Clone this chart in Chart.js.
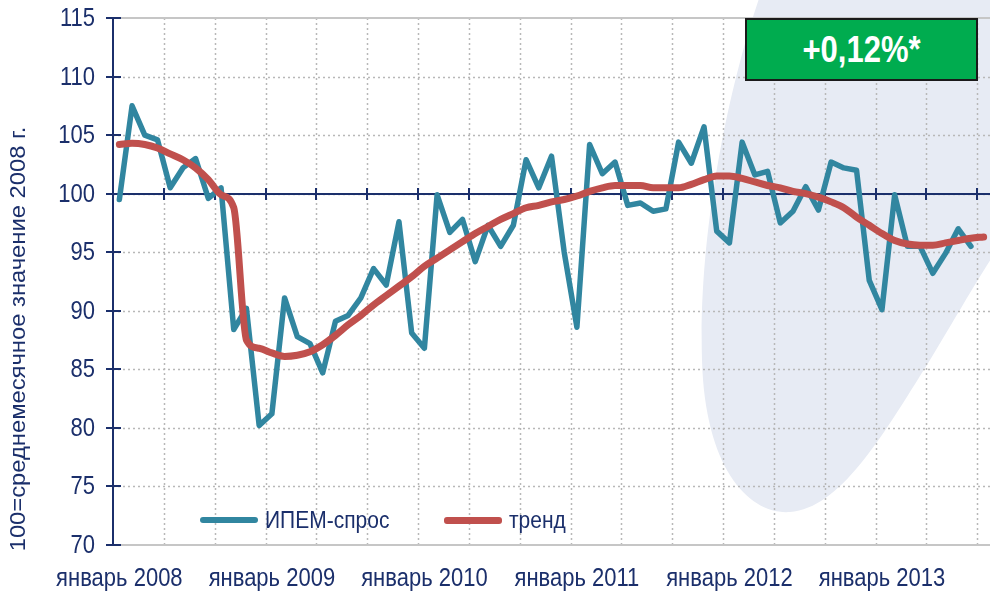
<!DOCTYPE html>
<html>
<head>
<meta charset="utf-8">
<script src="https://cdn.jsdelivr.net/npm/chart.js@4.4.1/dist/chart.umd.min.js"></script>
<style>
  body { margin: 0; background: #fff; }
  #wrap { position: relative; width: 990px; height: 599px; overflow: hidden; }
  #chart { position: absolute; left: 0; top: 0; }
  .legend { position: absolute; top: 508px; font-family: 'Liberation Sans', Arial, sans-serif; font-size: 21px; color: #1b2f6b; display: flex; align-items: center; }
  .legend i { display: inline-block; width: 58px; height: 6px; margin-right: 7px; border-radius: 3px; }
  .legend span { display: inline-block; transform: scaleY(1.18); }
  .badge { position: absolute; left: 745px; top: 18px; width: 229px; height: 59px; background: #00ac4f; border: 2px solid #1a1a1a; color: #fff; font-family: 'Liberation Sans', Arial, sans-serif; font-weight: bold; font-size: 31px; display: flex; align-items: center; justify-content: center; }
  .badge span { display: inline-block; transform: scaleY(1.2); }
</style>
</head>
<body>
<div id="wrap">
  <canvas id="chart" width="990" height="599"></canvas>
  <div class="legend" style="left:200px"><i style="background:#3186a0"></i><span>ИПЕМ-спрос</span></div>
  <div class="legend" style="left:444px"><i style="background:#c0504d;height:7px"></i><span>тренд</span></div>
  <div class="badge"><span>+0,12%*</span></div>
</div>
<script>
const monthNames = ['январь', 'февраль', 'март', 'апрель', 'май', 'июнь', 'июль', 'август', 'сентябрь', 'октябрь', 'ноябрь', 'декабрь'];
const years = [2008, 2009, 2010, 2011, 2012, 2013];
const monthCount = 69; // январь 2008 - сентябрь 2013

// ИПЕМ-спрос, 100 = среднемесячное значение 2008 г.
const demand = [
  99.5, 107.5, 105.0, 104.6, 100.5, 102.2, 103.0, 99.6, 100.5, 88.4, 90.2, 80.2,
  81.2, 91.1, 87.8, 87.2, 84.7, 89.1, 89.6, 91.1, 93.6, 92.2, 97.6, 88.1,
  86.8, 99.9, 96.7, 97.8, 94.2, 97.3, 95.5, 97.3, 102.9, 100.5, 103.2, 95.0,
  88.6, 104.2, 101.7, 102.7, 99.0, 99.2, 98.5, 98.7, 104.4, 102.6, 105.7, 96.8,
  95.8, 104.4, 101.6, 101.9, 97.5, 98.5, 100.6, 98.6, 102.7, 102.2, 102.0, 92.6,
  90.1, 99.9, 95.5, 95.5, 93.2, 94.9, 97.0, 95.5
];

// тренд
const trend = [
  104.2, 104.3, 104.2, 103.9, 103.4, 102.9, 102.2, 101.2, 99.9, 98.8, 87.5, 86.8,
  86.4, 86.1, 86.2, 86.5, 87.1, 87.9, 88.8, 89.6, 90.5, 91.3, 92.1, 92.9,
  93.8, 94.5, 95.2, 95.9, 96.6, 97.2, 97.8, 98.3, 98.8, 99.0, 99.3, 99.5,
  99.8, 100.2, 100.5, 100.7, 100.7, 100.7, 100.5, 100.5, 100.5, 100.8, 101.2, 101.5,
  101.5, 101.3, 101.0, 100.7, 100.5, 100.2, 100.0, 99.7, 99.3, 98.8, 98.0, 97.3,
  96.6, 96.0, 95.7, 95.6, 95.6, 95.8, 96.0, 96.2, 96.3
];

const yMin = 70;
const yMax = 115;
const yStep = 5;
const axisValue = 100;
const gridEvery = 4;
const yTitle = '100=среднемесячное значение 2008 г.';

const labels = [];
years.forEach(y => monthNames.forEach(m => labels.push(m + ' ' + y)));
const categories = labels.slice(0, monthCount);

const navy = '#1b2f6b';
const fontFamily = "'Liberation Sans', Arial, sans-serif";

// text slightly stretched vertically, like the original
function tallText(ctx, text, x, y, align, baseline, size) {
  ctx.save();
  ctx.translate(x, y);
  ctx.scale(1, 1.2);
  ctx.font = size + 'px ' + fontFamily;
  ctx.textAlign = align;
  ctx.textBaseline = baseline;
  ctx.fillText(text, 0, 0);
  ctx.restore();
}

const backdrop = {
  id: 'backdrop',
  beforeDraw(chart) {
    const ctx = chart.ctx;
    ctx.save();
    ctx.fillStyle = '#ffffff';
    ctx.fillRect(0, 0, chart.width, chart.height);
    // decorative shape behind the chart
    ctx.fillStyle = '#e7ebf4';
    ctx.beginPath();
    ctx.moveTo(762, -10);
    ctx.bezierCurveTo(730, 80, 698, 230, 702, 360);
    ctx.bezierCurveTo(705, 470, 750, 515, 790, 512);
    ctx.bezierCurveTo(840, 508, 880, 440, 930, 360);
    ctx.bezierCurveTo(960, 310, 980, 275, 1000, 245);
    ctx.lineTo(1000, -10);
    ctx.closePath();
    ctx.fill();
    ctx.restore();
  }
};

const frame = {
  id: 'frame',
  beforeDatasetsDraw(chart) {
    const { ctx, chartArea: a, scales: { x, y } } = chart;
    ctx.save();
    // dotted grid
    ctx.strokeStyle = '#b8b8b8';
    ctx.lineWidth = 1.5;
    ctx.setLineDash([2, 3]);
    for (let v = yMin + yStep; v < yMax; v += yStep) {
      const py = Math.round(y.getPixelForValue(v)) + 0.5;
      ctx.beginPath(); ctx.moveTo(a.left, py); ctx.lineTo(a.right, py); ctx.stroke();
    }
    for (let k = gridEvery; k < monthCount; k += gridEvery) {
      const px = Math.round(x.getPixelForValue(k - 0.5)) + 0.5;
      ctx.beginPath(); ctx.moveTo(px, a.top); ctx.lineTo(px, a.bottom); ctx.stroke();
    }
    ctx.setLineDash([]);
    // plot border top / bottom
    ctx.strokeStyle = '#c6c6c6';
    ctx.lineWidth = 2;
    ctx.beginPath(); ctx.moveTo(a.left, a.top); ctx.lineTo(a.right, a.top); ctx.stroke();
    ctx.beginPath(); ctx.moveTo(a.left, a.bottom); ctx.lineTo(a.right, a.bottom); ctx.stroke();
    // value axis
    ctx.strokeStyle = navy;
    ctx.lineWidth = 2;
    ctx.beginPath(); ctx.moveTo(a.left, a.top); ctx.lineTo(a.left, a.bottom + 1); ctx.stroke();
    ctx.fillStyle = navy;
    for (let v = yMin; v <= yMax; v += yStep) {
      const py = Math.round(y.getPixelForValue(v));
      ctx.beginPath(); ctx.moveTo(a.left - 7, py); ctx.lineTo(a.left + 8, py); ctx.stroke();
      tallText(ctx, String(v), a.left - 18, py + 1, 'right', 'middle', 22);
    }
    // category axis crossing at 100
    const ay = Math.round(y.getPixelForValue(axisValue));
    ctx.beginPath(); ctx.moveTo(a.left, ay); ctx.lineTo(a.right, ay); ctx.stroke();
    for (let k = gridEvery; k < monthCount; k += gridEvery) {
      const px = Math.round(x.getPixelForValue(k - 0.5));
      ctx.beginPath(); ctx.moveTo(px, ay - 6); ctx.lineTo(px, ay + 6); ctx.stroke();
    }
    // category labels, one per year
    for (let i = 0; i < monthCount; i += 12) {
      tallText(ctx, categories[i], x.getPixelForValue(i), a.bottom + 21, 'center', 'top', 22);
    }
    // axis title
    ctx.translate(19, 339);
    ctx.rotate(-Math.PI / 2);
    ctx.scale(1.08, 1);
    ctx.font = '22px ' + fontFamily;
    ctx.textAlign = 'center';
    ctx.textBaseline = 'middle';
    ctx.fillText(yTitle, 0, 0);
    ctx.restore();
  }
};

new Chart(document.getElementById('chart').getContext('2d'), {
  type: 'line',
  data: {
    labels: categories,
    datasets: [
      {
        label: 'тренд',
        data: trend,
        borderColor: '#c0504d',
        borderWidth: 7,
        pointRadius: 0,
        cubicInterpolationMode: 'monotone',
        borderCapStyle: 'round',
        borderJoinStyle: 'round',
        fill: false,
        order: 0
      },
      {
        label: 'ИПЕМ-спрос',
        data: demand,
        borderColor: '#3186a0',
        borderWidth: 5.5,
        pointRadius: 0,
        tension: 0,
        borderCapStyle: 'round',
        borderJoinStyle: 'round',
        fill: false,
        order: 1
      }
    ]
  },
  options: {
    responsive: false,
    animation: false,
    devicePixelRatio: 1,
    layout: { padding: { top: 18, right: 0, left: 0, bottom: 0 } },
    plugins: { legend: { display: false }, tooltip: { enabled: false } },
    scales: {
      x: {
        type: 'category',
        offset: true,
        grid: { display: false, offset: true, drawTicks: false },
        border: { display: false },
        ticks: { display: false, autoSkip: false },
        afterFit: s => { s.height = 54; }
      },
      y: {
        min: yMin,
        max: yMax,
        grid: { display: false, drawTicks: false },
        border: { display: false },
        ticks: { display: false, stepSize: yStep },
        afterFit: s => { s.width = 113; }
      }
    }
  },
  plugins: [backdrop, frame]
});
</script>
</body>
</html>
